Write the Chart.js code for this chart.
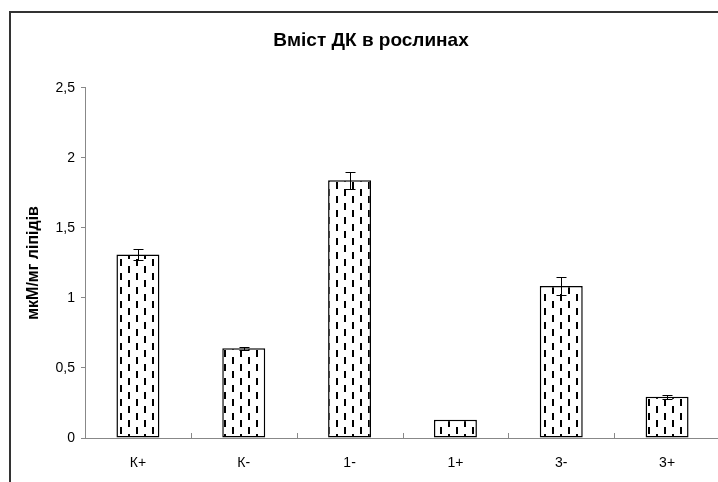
<!DOCTYPE html>
<html>
<head>
<meta charset="utf-8">
<script src="https://cdn.jsdelivr.net/npm/chart.js@4.4.1/dist/chart.umd.min.js"></script>
<style>
    html, body { margin: 0; padding: 0; background: #fff; overflow: hidden; }
    #frame { position: absolute; left: 9px; top: 11px; width: 900px; height: 700px;
        border-left: 2px solid #333; border-top: 2px solid #333; }
    #wrap { position: absolute; left: 0; top: 0; width: 742px; height: 482px; }
</style>
</head>
<body>
<div id="frame"></div>
<div id="wrap"><canvas id="grafico" width="742" height="482"></canvas></div>
<script>
const categorias = ['К+', 'К-', '1-', '1+', '3-', '3+']
const valores = [1.31, 0.64, 1.84, 0.13, 1.085, 0.295]
const errores = [0.042, 0.012, 0.06, 0, 0.065, 0.014]
const ticksY = [0, 0.5, 1, 1.5, 2, 2.5]

const fuente = "'Liberation Sans', Arial, sans-serif"

function crearPatron() {
    const c = document.createElement('canvas')
    c.width = 16
    c.height = 14
    const g = c.getContext('2d')
    g.fillStyle = '#fff'
    g.fillRect(0, 0, 16, 14)
    g.fillStyle = '#000'
    g.fillRect(0, 0, 2, 7)
    g.fillRect(8, 7, 2, 7)
    return g.createPattern(c, 'repeat')
}

const ctx = document.getElementById('grafico').getContext('2d')

// barras de error desde las escalas del grafico
const barrasError = {
    id: 'barrasError',
    afterDatasetsDraw(chart) {
        const meta = chart.getDatasetMeta(0)
        const y = chart.scales.y
        const c = chart.ctx
        c.save()
        c.strokeStyle = '#000'
        c.lineWidth = 1
        meta.data.forEach((bar, i) => {
            const e = errores[i]
            if (!e) return
            const arriba = Math.round(y.getPixelForValue(valores[i] + e)) + 0.5
            const abajo = Math.round(y.getPixelForValue(valores[i] - e)) + 0.5
            const x = Math.round(bar.x) + 0.5
            c.beginPath()
            c.moveTo(x, arriba); c.lineTo(x, abajo)
            c.moveTo(x - 5, arriba); c.lineTo(x + 5, arriba)
            c.moveTo(x - 5, abajo); c.lineTo(x + 5, abajo)
            c.stroke()
        })
        c.restore()
    }
}

// marcas del eje X hacia dentro, entre categorias
const marcasX = {
    id: 'marcasX',
    afterDraw(chart) {
        const x = chart.scales.x
        const c = chart.ctx
        const paso = x.getPixelForValue(1) - x.getPixelForValue(0)
        const base = chart.chartArea.bottom
        c.save()
        c.strokeStyle = '#888'
        c.lineWidth = 1
        for (let i = 1; i <= categorias.length; i++) {
            const px = Math.round(x.getPixelForValue(i) - paso / 2) + 0.5
            c.beginPath()
            c.moveTo(px, base)
            c.lineTo(px, base - 5)
            c.stroke()
        }
        c.restore()
    }
}

new Chart(ctx, {
    type: 'bar',
    data: {
        labels: categorias,
        datasets: [{
            data: valores,
            backgroundColor: crearPatron(),
            borderColor: '#000',
            borderWidth: 1.5,
            borderSkipped: false,
            categoryPercentage: 1,
            barPercentage: 0.406
        }]
    },
    plugins: [barrasError, marcasX],
    options: {
        responsive: false,
        animation: false,
        layout: { padding: { left: 22, right: 22, top: 0, bottom: 0 } },
        plugins: {
            legend: { display: false },
            tooltip: { enabled: false },
            title: {
                display: true,
                text: 'Вміст ДК в рослинах',
                color: '#000',
                font: { family: fuente, size: 19, weight: 'bold' },
                padding: { top: 29, bottom: 36 }
            }
        },
        scales: {
            x: {
                grid: { display: false, drawTicks: false },
                border: { color: '#888', width: 1 },
                ticks: { color: '#000', font: { family: fuente, size: 14 }, padding: 17, maxRotation: 0 },
                afterFit: (s) => { s.height = 44 }
            },
            y: {
                min: 0,
                max: 2.5,
                afterBuildTicks: (s) => { s.ticks = ticksY.map(v => ({ value: v })) },
                grid: { drawOnChartArea: false, tickLength: 4, color: '#888' },
                border: { color: '#888', width: 1 },
                ticks: {
                    color: '#000',
                    font: { family: fuente, size: 14 },
                    padding: 6,
                    callback: (v) => String(v).replace('.', ',')
                },
                title: {
                    display: true,
                    text: 'мкМ/мг ліпідів',
                    color: '#000',
                    font: { family: fuente, size: 16, weight: 'bold' },
                    padding: { top: 2, bottom: 0 }
                },
                afterFit: (s) => { s.width = 63 }
            }
        }
    }
})
</script>
</body>
</html>
